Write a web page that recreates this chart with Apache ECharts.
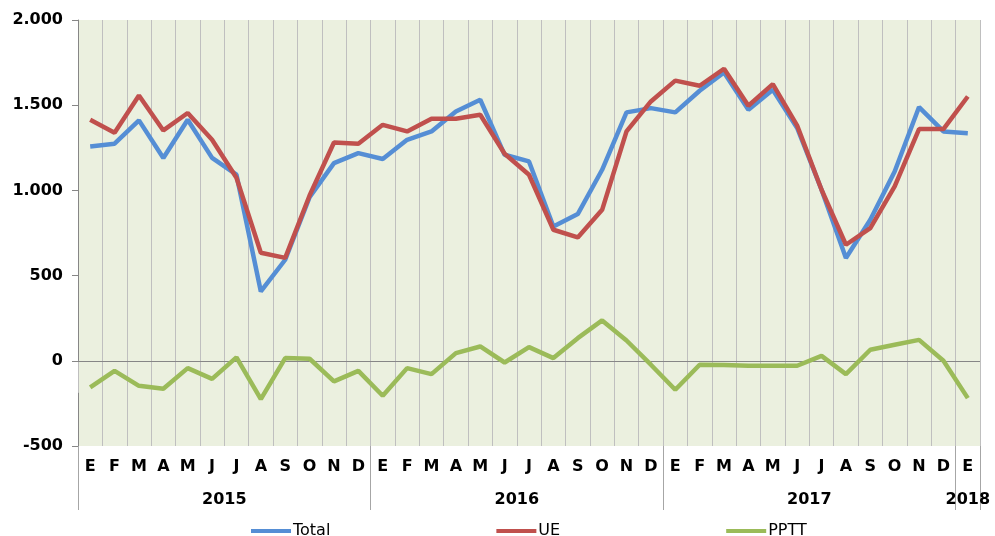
<!DOCTYPE html>
<html>
<head>
<meta charset="utf-8">
<script src="https://cdn.jsdelivr.net/npm/echarts@6/dist/echarts.min.js"></script>
<style>
  html, body { margin: 0; padding: 0; background: #fff; }
  #chart { width: 995px; height: 536px; }
</style>
</head>
<body>
<div id="chart"></div>
<script>
  // meses: 2015, 2016, 2017 y enero 2018
  var months = ['E','F','M','A','M','J','J','A','S','O','N','D',
    'E','F','M','A','M','J','J','A','S','O','N','D',
    'E','F','M','A','M','J','J','A','S','O','N','D',
    'E'];
  var years = ['2015', '2016', '2017', '2018'];
  var yearCenters = [6, 18, 30, 36.5];
  var yearBounds = [0, 12, 24, 36, 37];

  var total = [1258, 1274, 1411, 1190, 1415, 1191, 1092, 407, 593, 960, 1160, 1219,
    1184, 1297, 1346, 1463, 1532, 1209, 1170, 788, 861, 1121, 1458, 1483,
    1458, 1585, 1692, 1473, 1591, 1366, 1004, 603, 828, 1111, 1489, 1346,
    1336];
  var ue = [1414, 1338, 1557, 1352, 1454, 1297, 1074, 634, 604, 970, 1281, 1274,
    1385, 1346, 1420, 1420, 1444, 1215, 1092, 769, 724, 886, 1346, 1522,
    1644, 1614, 1714, 1497, 1624, 1380, 1004, 681, 779, 1023, 1360, 1360,
    1551];
  var pptt = [-156, -59, -147, -164, -43, -106, 20, -225, 16, 12, -121, -59,
    -205, -43, -78, 45, 84, -10, 80, 16, 133, 237, 119, -23,
    -170, -23, -25, -29, -29, -29, 29, -78, 65, 94, 123, 0,
    -219];

  var gridColor = '#BFBFBF';
  var font = 'DejaVu Sans, Verdana, sans-serif';

  function fmtThousands(v) {
    var s = String(Math.abs(v)).replace(/\B(?=(\d{3})+(?!\d))/g, '.');
    return (v < 0 ? '-' : '') + s;
  }

  var option = {
    animation: false,
    backgroundColor: '#ffffff',
    color: ['#558ED5', '#C0504D', '#9BBB59'],
    legend: {
      left: 246,
      top: 518,
      icon: 'rect',
      itemWidth: 40,
      itemHeight: 4,
      itemGap: 166,
      textStyle: {
        fontFamily: font,
        fontSize: 16,
        color: '#000',
        padding: [0, 0, 0, -3]
      },
      data: ['Total', 'UE', 'PPTT']
    },
    grid: {
      show: true,
      left: 78,
      right: 15,
      top: 20,
      bottom: 90,
      backgroundColor: '#EBF0DF',
      borderWidth: 0,
      containLabel: false
    },
    xAxis: [{
        type: 'category',
        data: months,
        boundaryGap: true,
        position: 'bottom',
        axisLine: { show: false },
        axisTick: {
          show: true,
          interval: 0,
          length: 32,
          lineStyle: { color: gridColor }
        },
        splitLine: {
          show: true,
          interval: 0,
          lineStyle: { color: gridColor, width: 1 }
        },
        axisLabel: {
          interval: 0,
          margin: 13,
          fontFamily: font,
          fontWeight: 'bold',
          fontSize: 16,
          color: '#000'
        }
      },
      {
        // segunda fila: años
        type: 'value',
        min: 0,
        max: 37,
        position: 'bottom',
        axisLine: { show: false },
        splitLine: { show: false },
        axisTick: {
          show: true,
          length: 64,
          customValues: yearBounds,
          lineStyle: { color: '#A6A6A6' }
        },
        axisLabel: {
          show: true,
          margin: 46,
          customValues: yearCenters,
          formatter: function (v) {
            var i = yearCenters.indexOf(v);
            return i >= 0 ? years[i] : '';
          },
          fontFamily: font,
          fontWeight: 'bold',
          fontSize: 16,
          color: '#000'
        }
      }
    ],
    yAxis: {
      type: 'value',
      min: -500,
      max: 2000,
      interval: 500,
      axisLine: { show: true, lineStyle: { color: '#868686' } },
      axisTick: { show: true, length: 6, lineStyle: { color: '#868686' } },
      splitLine: { show: false },
      axisLabel: {
        margin: 15,
        formatter: fmtThousands,
        fontFamily: font,
        fontWeight: 'bold',
        fontSize: 16,
        color: '#000'
      }
    },
    series: [{
        name: 'Total',
        type: 'line',
        data: total,
        showSymbol: false,
        symbol: 'none',
        lineStyle: { width: 4.5, color: '#558ED5' },
        z: 3
      },
      {
        name: 'UE',
        type: 'line',
        data: ue,
        showSymbol: false,
        symbol: 'none',
        lineStyle: { width: 4.5, color: '#C0504D' },
        z: 4
      },
      {
        name: 'PPTT',
        type: 'line',
        data: pptt,
        showSymbol: false,
        symbol: 'none',
        lineStyle: { width: 4.5, color: '#9BBB59' },
        z: 5,
        markLine: {
          silent: true,
          symbol: 'none',
          label: { show: false },
          lineStyle: { color: '#868686', type: 'solid', width: 1 },
          z: 1,
          data: [{ yAxis: 0 }]
        }
      }
    ]
  };

  var chart = echarts.init(document.getElementById('chart'));
  chart.setOption(option);
  window.addEventListener('resize', function () {
    chart.resize();
  });
</script>
</body>
</html>
